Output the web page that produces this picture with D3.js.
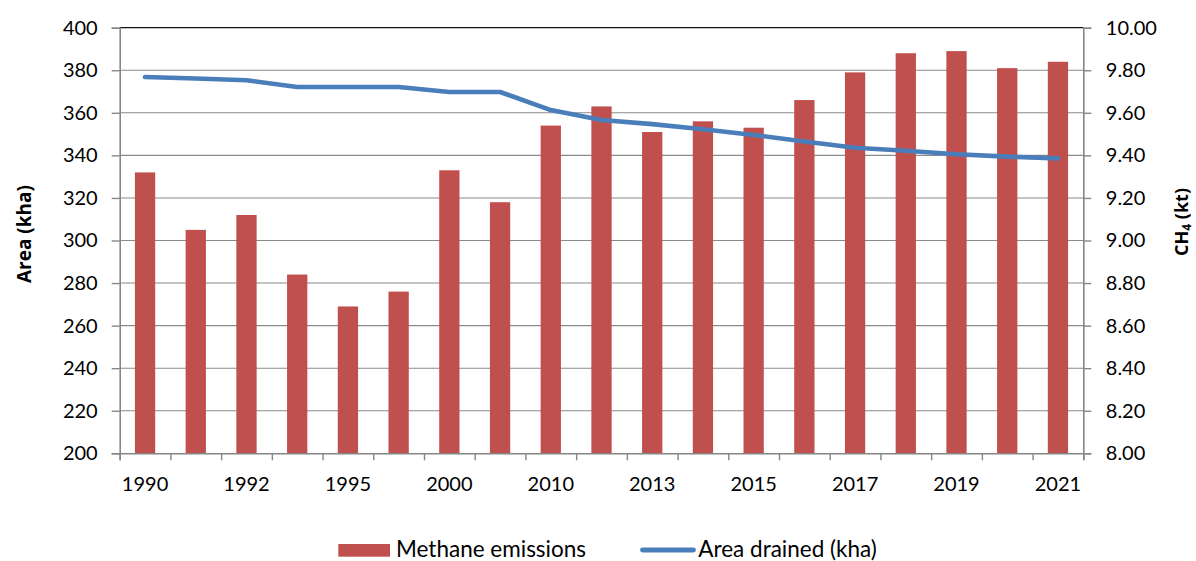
<!DOCTYPE html>
<html><head><meta charset="utf-8">
<script src="https://cdn.jsdelivr.net/npm/d3@7"></script>
<style>
html,body{margin:0;padding:0;background:#fff;}
svg{display:block;font-family:Lato,"Open Sans",sans-serif;}
</style></head>
<body><svg id="c" width="1196" height="561"></svg>
<script>
const categories = ["1990","1991","1992","1993","1995","1998","2000","2005","2010","2012","2013","2014","2015","2016","2017","2018","2019","2020","2021"];
const shownLabels = ["1990","1992","1995","2000","2010","2013","2015","2017","2019","2021"];
const methaneKt = [9.32,9.05,9.12,8.84,8.69,8.76,9.33,9.18,9.54,9.63,9.51,9.56,9.53,9.66,9.79,9.88,9.89,9.81,9.84];
const areaKha = [376.8,376.1,375.3,372.1,372.1,372.1,369.8,369.8,361.3,356.6,354.7,352.3,349.6,346.5,343.6,342.2,340.5,339.4,338.6];
const leftTicks = [200,220,240,260,280,300,320,340,360,380,400];
const rightTicks = [8.0,8.2,8.4,8.6,8.8,9.0,9.2,9.4,9.6,9.8,10.0];

const svg = d3.select("#c");
const L = 119.7, R = 1083.3, T = 27.7, B = 453.3;
const x = d3.scaleBand().domain(categories).range([L, R]).padding(0);
const xi = d3.scaleLinear().domain([0, categories.length]).range([L, R]);
const yL = d3.scaleLinear().domain([200, 400]).range([B, T]);
const yR = d3.scaleLinear().domain([8, 10]).range([B, T]);
const fs = 20;

// gridlines
svg.append("g").selectAll("line").data(leftTicks.slice(1)).join("line")
  .attr("x1", L).attr("x2", R).attr("y1", d => yL(d)).attr("y2", d => yL(d))
  .attr("stroke", d => d === 400 ? "#111" : "#8a8a8a").attr("stroke-width", d => d === 400 ? 1.3 : 1.1);

// bars
const bw = x.bandwidth() * 0.4;
svg.append("g").selectAll("rect").data(methaneKt).join("rect")
  .attr("x", (d, i) => x(categories[i]) + (x.bandwidth() - bw) / 2)
  .attr("width", bw)
  .attr("y", d => yR(d))
  .attr("height", d => yR(8) - yR(d))
  .attr("fill", "#c0504d");

// line
const line = d3.line().x((d, i) => x(categories[i]) + x.bandwidth() / 2).y(d => yL(d));
svg.append("path").datum(areaKha).attr("d", line)
  .attr("fill", "none").attr("stroke", "#4a7ebb").attr("stroke-width", 4.6)
  .attr("stroke-linecap", "round").attr("stroke-linejoin", "round");

// left axis
const gl = svg.append("g").attr("transform", `translate(${L},0)`)
  .call(d3.axisLeft(yL).tickValues(leftTicks).tickSize(8).tickPadding(14).tickFormat(d3.format("d")));
// right axis
const gr = svg.append("g").attr("transform", `translate(${R},0)`)
  .call(d3.axisRight(yR).tickValues(rightTicks).tickSize(8).tickPadding(14.5).tickFormat(d3.format(".2f")));
// bottom ticks
const gb = svg.append("g").attr("transform", `translate(0,${B})`)
  .call(d3.axisBottom(xi).tickValues(d3.range(categories.length + 1)).tickSize(7).tickFormat(""));
// bottom labels
const gbl = svg.append("g").attr("transform", `translate(0,${B})`)
  .call(d3.axisBottom(x).tickValues(shownLabels).tickSize(0).tickPadding(24));
gbl.select(".domain").remove();

[gl, gr, gb].forEach(g => {
  g.select(".domain").attr("stroke", "#868686").attr("stroke-width", 1.6);
  g.selectAll(".tick line").attr("stroke", "#868686").attr("stroke-width", 1.4);
});
svg.selectAll(".tick text").attr("font-family", "Lato, sans-serif").attr("font-size", fs).attr("fill", "#000");
gbl.selectAll(".tick text").attr("dy", "0.71em");

// axis titles
svg.append("text").attr("transform", "translate(31,234) rotate(-90)")
  .attr("text-anchor", "middle").attr("font-family", "'Open Sans', sans-serif").attr("font-weight", 700)
  .attr("font-size", 19).text("Area (kha)");
const rt = svg.append("text").attr("transform", "translate(1187.5,222) rotate(-90)")
  .attr("text-anchor", "middle").attr("font-family", "'Open Sans', sans-serif").attr("font-weight", 700)
  .attr("font-size", 18);
rt.append("tspan").text("CH");
rt.append("tspan").attr("font-size", 12).attr("dy", 3).text("4");
rt.append("tspan").attr("dy", -3).text(" (kt)");

// legend
const lfs = 22.5;
const lg = svg.append("g");
lg.append("rect").attr("x", 338.3).attr("y", 544).attr("width", 51.7).attr("height", 12.7).attr("fill", "#c0504d");
lg.append("text").attr("x", 396).attr("y", 556.7).attr("font-size", lfs).text("Methane emissions");
lg.append("line").attr("x1", 642.5).attr("x2", 693.5).attr("y1", 550).attr("y2", 550)
  .attr("stroke", "#4a7ebb").attr("stroke-width", 4.8).attr("stroke-linecap", "round");
lg.append("text").attr("x", 698.3).attr("y", 556.7).attr("font-size", lfs).text("Area drained (kha)");
</script></body></html>
